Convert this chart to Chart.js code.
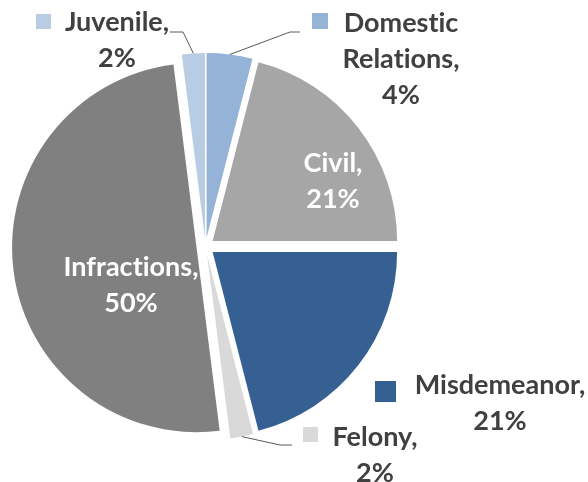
<!DOCTYPE html>
<html>
<head>
<meta charset="utf-8">
<script src="https://cdn.jsdelivr.net/npm/chart.js@4.4.1/dist/chart.umd.min.js"></script>
<style>
    html, body { margin: 0; padding: 0; background: #fff; }
    #wrap { width: 588px; height: 482px; }
</style>
</head>
<body>
<div id="wrap"><canvas id="caseload"></canvas></div>
<script>
// case types, clockwise from 12 o'clock
var categories = ["Domestic Relations", "Civil", "Misdemeanor", "Felony", "Infractions", "Juvenile"];
var shares = [4, 21, 21, 2, 50, 2];
var sliceColors = ["#95b3d7", "#a6a6a6", "#366092", "#d9d9d9", "#808080", "#b8cce4"];

// label text lines for each slice (last line is the share)
var labelLines = [
    ["Domestic", "Relations,"],
    ["Civil,"],
    ["Misdemeanor,"],
    ["Felony,"],
    ["Infractions,"],
    ["Juvenile,"]
];

var FONT = "bold 27px Lato";
var LINE_H = 36;
var EXPLODE = 9;

// where each data label sits, and whether it gets a key square / leader line
var labelStyle = [
    {x: 401, y: 23, color: "#404040", key: {x: 312, y: 13, s: 16}, leader: [[290, 32], [300, 32]]},
    {x: 333, y: 163, color: "#ffffff"},
    {x: 500, y: 385, color: "#404040", key: {x: 375, y: 381, s: 21}},
    {x: 375, y: 437, color: "#404040", key: {x: 303, y: 427, s: 15}, leader: [[280, 445], [292, 445]]},
    {x: 131, y: 267, color: "#ffffff"},
    {x: 117, y: 22, color: "#404040", key: {x: 36, y: 14, s: 15}, leader: [[183, 32], [170, 32]]}
];

// pull every slice straight out along its mid angle
// (the built-in `offset` also grows the radius of narrow slices)
var explodeSlices = {
    id: "explodeSlices",
    afterUpdate: function (chart) {
        var ArcElement = Chart.ArcElement;
        chart.getDatasetMeta(0).data.forEach(function (arc) {
            arc.draw = function (ctx) {
                var mid = (this.startAngle + this.endAngle) / 2;
                ctx.save();
                ctx.translate(Math.cos(mid) * EXPLODE, Math.sin(mid) * EXPLODE);
                ArcElement.prototype.draw.call(this, ctx);
                ctx.restore();
            };
        });
    }
};

var pieLabels = {
    id: "pieLabels",
    afterDatasetsDraw: function (chart) {
        var ctx = chart.ctx;
        var meta = chart.getDatasetMeta(0);
        ctx.save();
        if ("textRendering" in ctx) ctx.textRendering = "optimizeSpeed";
        meta.data.forEach(function (arc, i) {
            var st = labelStyle[i];
            var p = arc.getProps(["x", "y", "startAngle", "endAngle", "outerRadius"], true);
            var mid = (p.startAngle + p.endAngle) / 2;
            var r = p.outerRadius + EXPLODE;

            if (st.leader) {
                ctx.beginPath();
                ctx.strokeStyle = "#595959";
                ctx.lineWidth = 1;
                ctx.moveTo(p.x + Math.cos(mid) * r, p.y + Math.sin(mid) * r);
                st.leader.forEach(function (pt) { ctx.lineTo(pt[0], pt[1]); });
                ctx.stroke();
            }
            if (st.key) {
                ctx.fillStyle = sliceColors[i];
                ctx.fillRect(st.key.x, st.key.y, st.key.s, st.key.s);
            }

            var lines = labelLines[i].concat([shares[i] + "%"]);
            ctx.font = FONT;
            ctx.fillStyle = st.color;
            ctx.textAlign = "center";
            ctx.textBaseline = "middle";
            lines.forEach(function (t, k) {
                ctx.fillText(t, st.x, st.y + k * LINE_H);
            });
        });
        ctx.restore();
    }
};

new Chart(document.getElementById("caseload").getContext("2d"), {
    type: "pie",
    data: {
        labels: categories,
        datasets: [{
            data: shares,
            backgroundColor: sliceColors,
            borderWidth: 0
        }]
    },
    options: {
        responsive: true,
        maintainAspectRatio: false,
        animation: false,
        radius: 184.5,
        layout: { padding: { left: 0, right: 177, top: 11, bottom: 0 } },
        plugins: {
            legend: { display: false },
            tooltip: { enabled: false }
        }
    },
    plugins: [explodeSlices, pieLabels]
});
</script>
</body>
</html>
